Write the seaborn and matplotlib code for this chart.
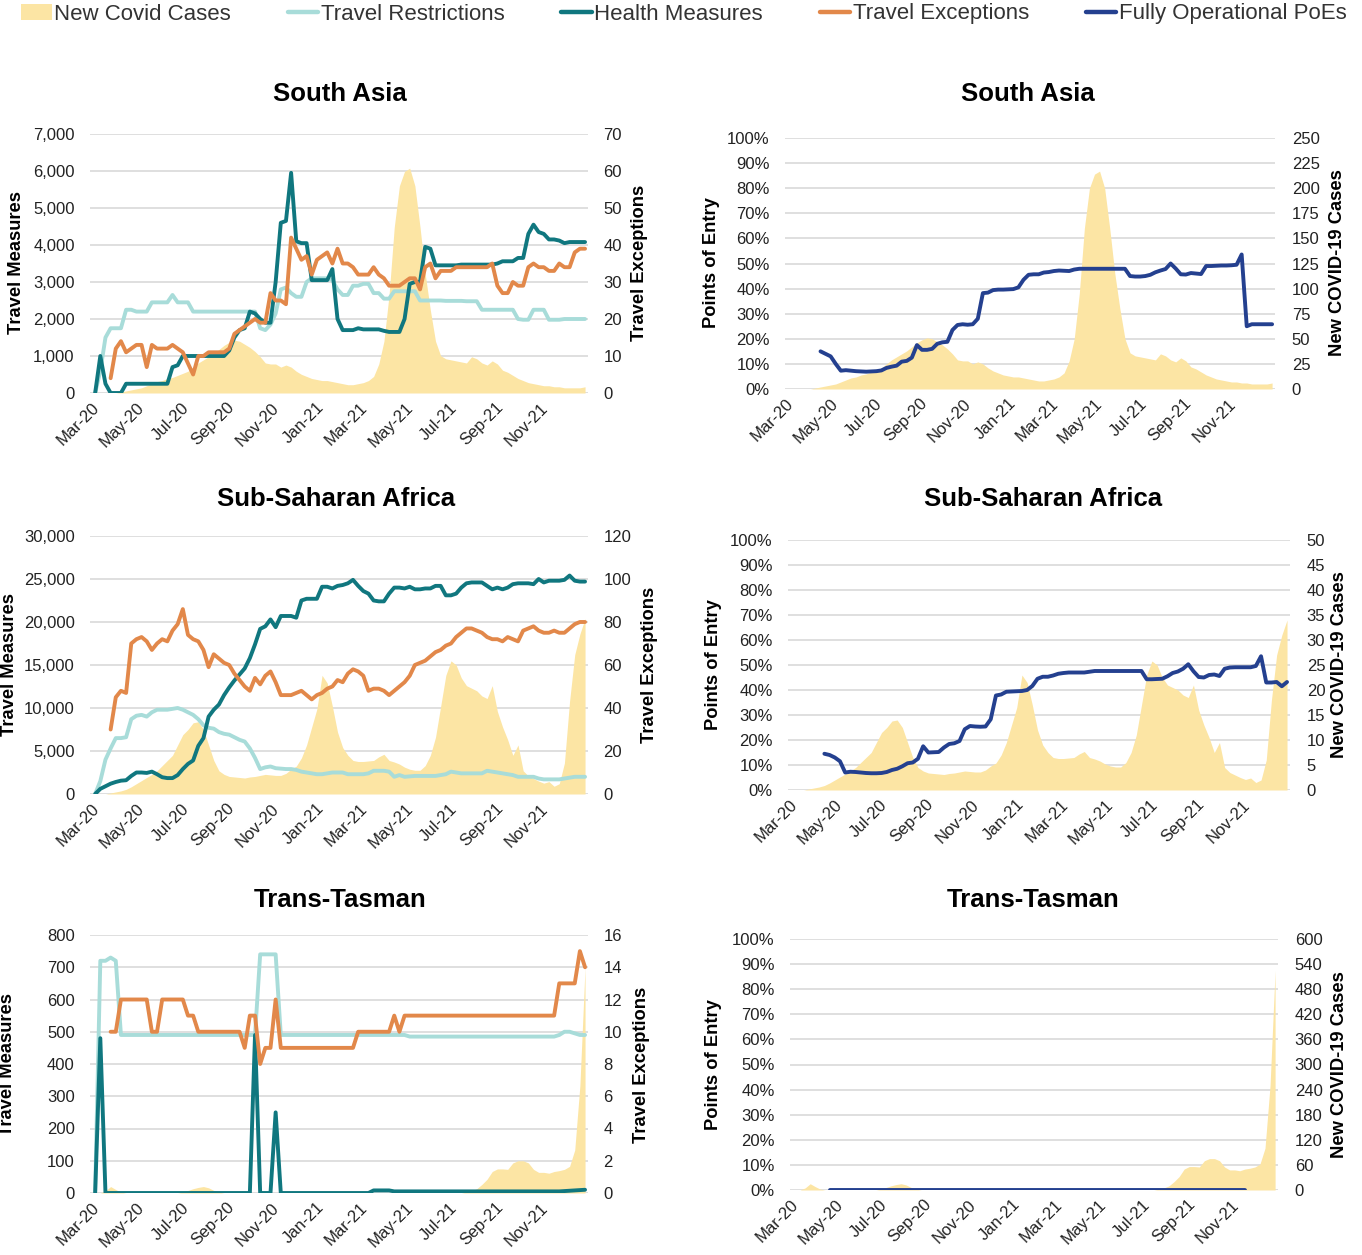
import numpy as np
import pandas as pd
import matplotlib
matplotlib.use("Agg")
import matplotlib.pyplot as plt
import matplotlib.dates as mdates
import matplotlib.transforms as mtrans
from matplotlib.ticker import FuncFormatter
from matplotlib.patches import Patch
from matplotlib.lines import Line2D
from matplotlib import font_manager
import seaborn as sns

# weekly observations, 1 Mar 2020 -> 26 Dec 2021
dates = pd.date_range("2020-03-01", periods=96, freq="7D")

# ---------------- South Asia ----------------
sa_cases = [0, 0, 0, 0, 0, 1, 2, 3, 4, 5, 7, 9, 11, 12, 14, 15, 17, 19, 21, 25,
            29, 32, 35, 38, 42, 46, 49, 51, 50, 47, 44, 40, 35, 29, 28, 28, 25, 27, 25, 21,
            18, 16, 14, 13, 12, 12, 11, 10, 9, 8, 8, 9, 10, 12, 16, 28, 50, 95, 160, 200,
            214, 217, 200, 160, 115, 80, 50, 36, 33, 32, 31, 30, 29, 35, 33, 29, 27, 31, 28, 22,
            20, 17, 14, 12, 10, 9, 8, 7, 7, 6, 6, 5, 5, 5, 5, 6]
sa_restr = [0, 600, 1500, 1750, 1750, 1750, 2250, 2250, 2200, 2200,
            2200, 2450, 2450, 2450, 2450, 2650, 2450, 2450, 2450, 2200,
            2200, 2200, 2200, 2200, 2200, 2200, 2200, 2200, 2200, 2200,
            2200, 2200, 1750, 1700, 1850, 2150, 2800, 2850, 2700, 2600,
            2600, 3000, 3100, 3100, 3100, 3100, 3050, 2800, 2650, 2650,
            2900, 2900, 2950, 2950, 2700, 2700, 2550, 2550, 2750, 2750,
            2750, 2750, 2750, 2500, 2500, 2500, 2500, 2500, 2490, 2490,
            2490, 2490, 2480, 2480, 2480, 2250, 2250, 2250, 2250, 2250,
            2250, 2250, 2000, 1980, 1980, 2250, 2250, 2250, 1980, 1980,
            1980, 2000, 2000, 2000, 2000, 2000]
sa_health = [0, 1000, 250, 0, 0, 0, 250, 250, 250, 250,
             250, 250, 250, 250, 250, 700, 750, 1000, 1000, 1000,
             1000, 1000, 1000, 1000, 1000, 1000, 1150, 1500, 1700, 1750,
             2200, 2150, 2000, 1900, 1900, 3000, 4600, 4650, 5950, 4100,
             4050, 4050, 3050, 3050, 3050, 3050, 3350, 2000, 1700, 1700,
             1700, 1750, 1720, 1720, 1720, 1720, 1680, 1650, 1650, 1650,
             2000, 2950, 3000, 3000, 3950, 3900, 3450, 3450, 3450, 3450,
             3450, 3470, 3470, 3470, 3470, 3470, 3470, 3470, 3500, 3560,
             3560, 3560, 3650, 3650, 4300, 4550, 4350, 4300, 4150, 4150,
             4120, 4050, 4080, 4080, 4080, 4080]
sa_exc = [None, None, None, 4, 12, 14, 11, 12, 13, 13,
          7, 13, 12, 12, 12, 13, 12, 11, 8, 5,
          10, 10, 11, 11, 11, 11, 12, 16, 17, 18,
          19, 20, 19, 19, 27, 25, 25, 24, 42, 39,
          36, 37, 32, 36, 37, 38, 35, 39, 35, 35,
          34, 32, 32, 32, 34, 32, 31, 29, 29, 29,
          30, 31, 31, 28, 34, 35, 31, 33, 33, 33,
          34, 34, 34, 34, 34, 34, 34, 35, 29, 27,
          27, 30, 29, 29, 34, 35, 34, 34, 33, 33,
          35, 34, 34, 38, 39, 39]
sa_poe = [None, None, None, None, None, None, 15, 14, 13, 10,
          7.3, 7.5, 7.3, 7.1, 7.0, 6.9, 7.0, 7.1, 7.4, 8.4,
          8.9, 9.3, 10.9, 11.2, 12.5, 17.5, 15.6, 15.6, 16.0, 18.0,
          18.6, 18.8, 23.5, 25.5, 25.8, 25.6, 25.8, 28.0, 38.2, 38.4,
          39.4, 39.6, 39.6, 39.7, 39.8, 40.5, 43.5, 45.5, 45.7, 45.7,
          46.4, 46.6, 47.0, 47.2, 47.1, 47.0, 47.6, 47.9, 47.9, 47.9,
          47.9, 47.9, 47.9, 47.9, 47.9, 47.9, 47.9, 45.0, 44.8, 44.8,
          45.0, 45.5, 46.5, 47.2, 47.8, 50.0, 48.0, 45.7, 45.6, 46.2,
          46.0, 45.8, 49.0, 49.0, 49.1, 49.2, 49.2, 49.3, 49.5, 53.6,
          25.0, 25.8, 25.8, 25.8, 25.8, 25.8]

# ---------------- Sub-Saharan Africa ----------------
ssa_cases = [0, 0, 0, 0.2, 0.4, 0.6, 0.9, 1.4, 2, 2.6,
             3.2, 3.8, 4.5, 5.5, 6.5, 7.5, 9.5, 11.5, 12.5, 13.8,
             14, 12.5, 9.5, 6.5, 4.5, 3.8, 3.4, 3.3, 3.2, 3.1,
             3.3, 3.4, 3.6, 3.8, 3.7, 3.6, 3.6, 4.0, 4.8, 5.4,
             7, 9.5, 13, 16.5, 23, 21.5, 17, 12, 9, 7.5,
             6.5, 6.3, 6.3, 6.4, 6.5, 7.2, 7.7, 6.5, 6.2, 5.8,
             5.2, 4.8, 4.6, 4.6, 5.5, 7.5, 11, 17, 23, 25.8,
             25, 22.5, 21, 20.5, 20, 19, 18.5, 21, 16, 13,
             10.5, 7.5, 9.5, 4.5, 3.5, 3, 2.5, 2.1, 2.4, 1.5,
             2, 6, 18, 27, 31, 34]
ssa_restr = [0, 1500, 4000, 5300, 6500, 6500, 6600, 8700, 9100, 9200,
             9000, 9500, 9800, 9800, 9800, 9900, 10000, 9800, 9500, 9200,
             8700, 8000, 7700, 7600, 7200, 7000, 6900, 6600, 6300, 6100,
             5300, 4200, 2900, 3100, 3200, 3000, 2950, 2900, 2900, 2800,
             2600, 2500, 2400, 2300, 2300, 2400, 2500, 2500, 2500, 2300,
             2300, 2300, 2300, 2400, 2700, 2700, 2700, 2600, 2000, 2200,
             2000, 2050, 2100, 2100, 2100, 2100, 2100, 2200, 2300, 2600,
             2500, 2400, 2400, 2400, 2400, 2400, 2700, 2600, 2500, 2400,
             2300, 2200, 2000, 2000, 2000, 2000, 1800, 1700, 1700, 1700,
             1700, 1800, 1900, 2000, 2000, 2000]
ssa_health = [0, 600, 900, 1200, 1400, 1550, 1600, 2100, 2500, 2500,
              2450, 2600, 2300, 1950, 1850, 1850, 2200, 2900, 3500, 3900,
              5600, 6500, 9000, 9800, 10400, 11500, 12400, 13200, 13900, 14600,
              15800, 17400, 19200, 19500, 20300, 19400, 20700, 20700, 20700, 20500,
              22500, 22700, 22700, 22700, 24100, 24100, 23900, 24200, 24300, 24500,
              24900, 24200, 23600, 23300, 22500, 22400, 22400, 23300, 24000, 24000,
              23900, 24100, 23800, 23800, 23900, 23900, 24200, 24200, 23100, 23100,
              23300, 24000, 24500, 24600, 24600, 24600, 24200, 23800, 24000, 23800,
              24000, 24400, 24500, 24500, 24500, 24400, 25000, 24600, 24800, 24800,
              24800, 24900, 25400, 24800, 24700, 24700]
ssa_exc = [None, None, None, 30, 45, 48, 47, 70, 72, 73,
           71, 67, 70, 72, 71, 76, 79, 86, 74, 72,
           71, 67, 59, 65, 63, 61, 60, 56, 53, 50,
           48, 54, 51, 55, 57, 52, 46, 46, 46, 47,
           48, 46, 44, 46, 47, 49, 50, 53, 52, 56,
           58, 57, 55, 48, 49, 49, 48, 46, 48, 50,
           52, 55, 60, 61, 62, 64, 66, 67, 69, 70,
           73, 75, 77, 77, 76, 75, 73, 72, 72, 71,
           73, 72, 71, 76, 77, 78, 76, 75, 75, 76,
           75, 75, 77, 79, 80, 80]
ssa_poe = [None, None, None, None, None, None, 14.5, 14, 13, 11.5,
           7.0, 7.3, 7.2, 7.0, 6.8, 6.7, 6.7, 6.8, 7.2, 8.0,
           8.5, 9.5, 10.7, 11.0, 12.5, 17.5, 15.0, 15.1, 15.2, 17.0,
           18.4, 18.7, 19.6, 24.3, 25.6, 25.4, 25.3, 25.4, 28.3, 37.8,
           38.2, 39.3, 39.4, 39.5, 39.6, 40.0, 41.6, 44.5, 45.3, 45.3,
           45.8, 46.5, 46.8, 47.0, 47.0, 47.0, 47.0, 47.3, 47.6, 47.6,
           47.6, 47.6, 47.6, 47.6, 47.6, 47.6, 47.6, 47.6, 44.3, 44.3,
           44.4, 44.5, 45.5, 46.8, 47.4, 48.5, 50.3, 47.5, 45.2, 45.0,
           46.0, 46.2, 45.6, 48.5, 49.0, 49.1, 49.1, 49.1, 49.1, 49.6,
           53.5, 43.0, 43.0, 43.2, 41.5, 43.2]

# ---------------- Trans-Tasman ----------------
tt_cases = [0, 0, 5, 15, 8, 2, 0, 0, 0, 0,
            0, 0, 0, 0, 0, 0, 0, 2, 6, 10,
            13, 15, 12, 6, 2, 0, 0, 0, 0, 0,
            0, 0, 0, 0, 0, 0, 0, 0, 0, 0,
            0, 0, 0, 0, 0, 0, 0, 0, 0, 0,
            0, 0, 0, 0, 0, 0, 0, 0, 0, 0,
            0, 0, 0, 0, 0, 0, 0, 0, 0, 0,
            0, 0, 2, 5, 10, 20, 32, 50, 56, 56,
            55, 70, 75, 75, 70, 55, 48, 48, 46, 50,
            52, 55, 62, 100, 250, 525]
tt_restr = [5, 720, 720, 730, 720, 490, 490, 490, 490, 490,
            490, 490, 490, 490, 490, 490, 490, 490, 490, 490,
            490, 490, 490, 490, 490, 490, 490, 490, 490, 490,
            490, 490, 740, 740, 740, 740, 490, 490, 490, 490,
            490, 490, 490, 490, 490, 490, 490, 490, 490, 490,
            490, 490, 490, 490, 490, 490, 490, 490, 490, 490,
            490, 485, 485, 485, 485, 485, 485, 485, 485, 485,
            485, 485, 485, 485, 485, 485, 485, 485, 485, 485,
            485, 485, 485, 485, 485, 485, 485, 485, 485, 485,
            490, 500, 500, 495, 490, 490]
tt_health = [0, 480, 0, 0, 0, 0, 0, 0, 0, 0,
             0, 0, 0, 0, 0, 0, 0, 0, 0, 0,
             0, 0, 0, 0, 0, 0, 0, 0, 0, 0,
             0, 490, 0, 0, 0, 250, 0, 0, 0, 0,
             0, 0, 0, 0, 0, 0, 0, 0, 0, 0,
             0, 0, 0, 0, 8, 8, 8, 8, 5, 5,
             5, 5, 5, 5, 5, 5, 5, 5, 5, 5,
             5, 5, 5, 5, 5, 5, 5, 5, 5, 5,
             5, 5, 5, 5, 5, 5, 5, 5, 5, 5,
             5, 6, 7, 8, 9, 10]
tt_exc = [None, None, None, 10, 10, 12, 12, 12, 12, 12,
          12, 10, 10, 12, 12, 12, 12, 12, 11, 11,
          10, 10, 10, 10, 10, 10, 10, 10, 10, 9,
          11, 11, 8, 9, 9, 12, 9, 9, 9, 9,
          9, 9, 9, 9, 9, 9, 9, 9, 9, 9,
          9, 10, 10, 10, 10, 10, 10, 10, 11, 10,
          11, 11, 11, 11, 11, 11, 11, 11, 11, 11,
          11, 11, 11, 11, 11, 11, 11, 11, 11, 11,
          11, 11, 11, 11, 11, 11, 11, 11, 11, 11,
          13, 13, 13, 13, 15, 14]
tt_poe = [None, None, None, None, None, None, None, 0, 0, 0,
          0, 0, 0, 0, 0, 0, 0, 0, 0, 0,
          0, 0, 0, 0, 0, 0, 0, 0, 0, 0,
          0, 0, 0, 0, 0, 0, 0, 0, 0, 0,
          0, 0, 0, 0, 0, 0, 0, 0, 0, 0,
          0, 0, 0, 0, 0, 0, 0, 0, 0, 0,
          0, 0, 0, 0, 0, 0, 0, 0, 0, 0,
          0, 0, 0, 0, 0, 0, 0, 0, 0, 0,
          0, 0, 0, 0, 0, 0, 0, 0, 0, 0,
          None, None, None, None, None, None]

regions = ["South Asia", "Sub-Saharan Africa", "Trans-Tasman"]

# colours
CASE = "#FCE5A4"
RESTR = "#A8DCD9"
HEALTH = "#10777F"
EXC = "#E2884A"
POE = "#24408F"
GRID = "#D9D9D9"
TXT = "#222222"

sns.set_theme(style="white")
names = {f.name for f in font_manager.fontManager.ttflist}
narrow = "Liberation Sans Narrow" in names
plt.rcParams["font.family"] = ["Liberation Sans", "DejaVu Sans"]
plt.rcParams["text.color"] = TXT

W, H = 1362, 1255
fig = plt.figure(figsize=(W / 100, H / 100), dpi=100)
shift = mtrans.ScaledTranslation(-4 / 100, 0, fig.dpi_scale_trans)


def box(x0, y0, x1, y1):
    return [x0 / W, 1 - y1 / H, (x1 - x0) / W, (y1 - y0) / H]


def label(x, y, s, rot=90, size=13.2):
    fig.text(x / W, 1 - y / H, s, rotation=rot, ha="center", va="center",
             fontsize=size, fontweight="bold", color="black")


XMIN, XMAX = pd.Timestamp("2020-02-23"), pd.Timestamp("2021-12-30")


def style(ax):
    for s in ax.spines.values():
        s.set_visible(False)
    ax.tick_params(length=0, labelsize=12, colors=TXT)
    ax.set_xlabel("")
    ax.set_ylabel("")


def x_axis(ax):
    ax.set_xlim(XMIN, XMAX)
    ax.xaxis.set_major_locator(mdates.MonthLocator(bymonth=[1, 3, 5, 7, 9, 11]))
    ax.xaxis.set_major_formatter(mdates.DateFormatter("%b-%y"))
    ax.tick_params(axis="x", pad=5)
    for t in ax.get_xticklabels():
        t.set_rotation(45)
        t.set_ha("right")
        t.set_rotation_mode("anchor")
        t.set_transform(t.get_transform() + shift)


def left_panel(rect, df, m_max, m_step, e_max, e_step, c_max):
    ax_c = fig.add_axes(rect)
    ax_m = fig.add_axes(rect, sharex=ax_c)
    ax_e = fig.add_axes(rect, sharex=ax_c)
    ax_c.fill_between(df["date"], 0, df["cases"], color=CASE, lw=0, zorder=2)
    sns.lineplot(data=df, x="date", y="restr", ax=ax_m, color=RESTR, lw=2.8, legend=False)
    sns.lineplot(data=df, x="date", y="health", ax=ax_m, color=HEALTH, lw=2.8, legend=False)
    sns.lineplot(data=df, x="date", y="exc", ax=ax_e, color=EXC, lw=2.8, legend=False)
    n = int(round(m_max / m_step))
    ax_c.set_ylim(0, c_max)
    ax_c.set_yticks(np.linspace(0, c_max, n + 1))
    ax_c.grid(axis="y", color=GRID, lw=1.2)
    ax_c.grid(axis="x", visible=False)
    ax_c.set_axisbelow(True)
    for a in (ax_c, ax_m, ax_e):
        style(a)
    ax_c.tick_params(axis="y", labelleft=False)
    ax_m.patch.set_visible(False)
    ax_e.patch.set_visible(False)
    ax_m.set_ylim(0, m_max)
    ax_m.set_yticks(np.arange(0, m_max + 1, m_step))
    ax_m.yaxis.set_major_formatter(FuncFormatter(lambda v, p: f"{v:,.0f}"))
    ax_m.tick_params(axis="y", pad=11)
    ax_e.yaxis.tick_right()
    ax_e.set_ylim(0, e_max)
    ax_e.set_yticks(np.arange(0, e_max + 1, e_step))
    ax_e.tick_params(axis="y", pad=11)
    ax_m.grid(False)
    ax_e.grid(False)
    ax_m.tick_params(axis="x", labelbottom=False)
    ax_e.tick_params(axis="x", labelbottom=False)
    x_axis(ax_c)


def right_panel(rect, df, c_max, c_step):
    ax_c = fig.add_axes(rect)
    ax_p = fig.add_axes(rect, sharex=ax_c)
    ax_c.fill_between(df["date"], 0, df["cases"], color=CASE, lw=0, zorder=2)
    sns.lineplot(data=df, x="date", y="poe", ax=ax_p, color=POE, lw=2.8, legend=False)
    ax_c.set_ylim(0, c_max)
    ax_c.set_yticks(np.arange(0, c_max + 0.001, c_step))
    ax_c.grid(axis="y", color=GRID, lw=1.2)
    ax_c.grid(axis="x", visible=False)
    ax_c.set_axisbelow(True)
    for a in (ax_c, ax_p):
        style(a)
    ax_c.yaxis.tick_right()
    ax_c.tick_params(axis="y", pad=12)
    ax_p.patch.set_visible(False)
    ax_p.set_ylim(0, 100)
    ax_p.set_yticks(np.arange(0, 101, 10))
    ax_p.yaxis.set_major_formatter(FuncFormatter(lambda v, p: f"{v:.0f}%"))
    ax_p.tick_params(axis="y", pad=11)
    ax_p.grid(False)
    ax_p.tick_params(axis="x", labelbottom=False)
    x_axis(ax_c)


def frame(cases, restr, health, exc, poe):
    return pd.DataFrame({
        "date": dates,
        "cases": pd.Series(cases, dtype=float),
        "restr": pd.Series(restr, dtype=float),
        "health": pd.Series(health, dtype=float),
        "exc": pd.Series(exc, dtype=float),
        "poe": pd.Series(poe, dtype=float),
    })


df_sa = frame(sa_cases, sa_restr, sa_health, sa_exc, sa_poe)
df_ssa = frame(ssa_cases, ssa_restr, ssa_health, ssa_exc, ssa_poe)
df_tt = frame(tt_cases, tt_restr, tt_health, tt_exc, tt_poe)

# South Asia
left_panel(box(90, 134, 588, 393), df_sa, 7000, 1000, 70, 10, 250)
right_panel(box(785, 138, 1275, 389), df_sa, 250, 25)
# Sub-Saharan Africa
left_panel(box(90, 536, 588, 794), df_ssa, 30000, 5000, 120, 20, 50)
right_panel(box(788, 540, 1290, 790), df_ssa, 50, 5)
# Trans-Tasman
left_panel(box(90, 935, 588, 1193), df_tt, 800, 100, 16, 2, 600)
right_panel(box(790, 939, 1278, 1190), df_tt, 600, 60)

# titles
for (xl, xr, y), name in zip([(340, 1028, 94), (336, 1043, 499), (340, 1033, 900)], regions):
    label(xl, y, name, rot=0, size=18.5)
    label(xr, y, name, rot=0, size=18.5)

# axis titles
for yc, (xm, xe, xp, xn) in zip([263, 665, 1065],
                               [(17, 640, 712, 1338), (10, 650, 714, 1340), (8, 642, 714, 1340)]):
    label(xm, yc, "Travel Measures")
    label(xe, yc, "Travel Exceptions")
    label(xp, yc, "Points of Entry")
    label(xn, yc, "New COVID-19 Cases")

handles = [Patch(facecolor=CASE, edgecolor="none"),
           Line2D([], [], color=RESTR, lw=3.2),
           Line2D([], [], color=HEALTH, lw=3.2),
           Line2D([], [], color=EXC, lw=3.2),
           Line2D([], [], color=POE, lw=3.2)]
labels = ["New Covid Cases", "Travel Restrictions", "Health Measures",
          "Travel Exceptions", "Fully Operational PoEs"]
leg_font = {"family": "Liberation Sans Narrow", "size": 19} if narrow else {"family": "Liberation Sans", "size": 16}
fig.legend(handles, labels, loc="center", bbox_to_anchor=(684 / W, 1 - 14 / H),
           ncol=5, frameon=False, handlelength=1.36, handletextpad=0.12,
           columnspacing=2.56, borderpad=0, borderaxespad=0, prop=leg_font,
           labelcolor="#333333")

fig.savefig("out.png", dpi=100)
